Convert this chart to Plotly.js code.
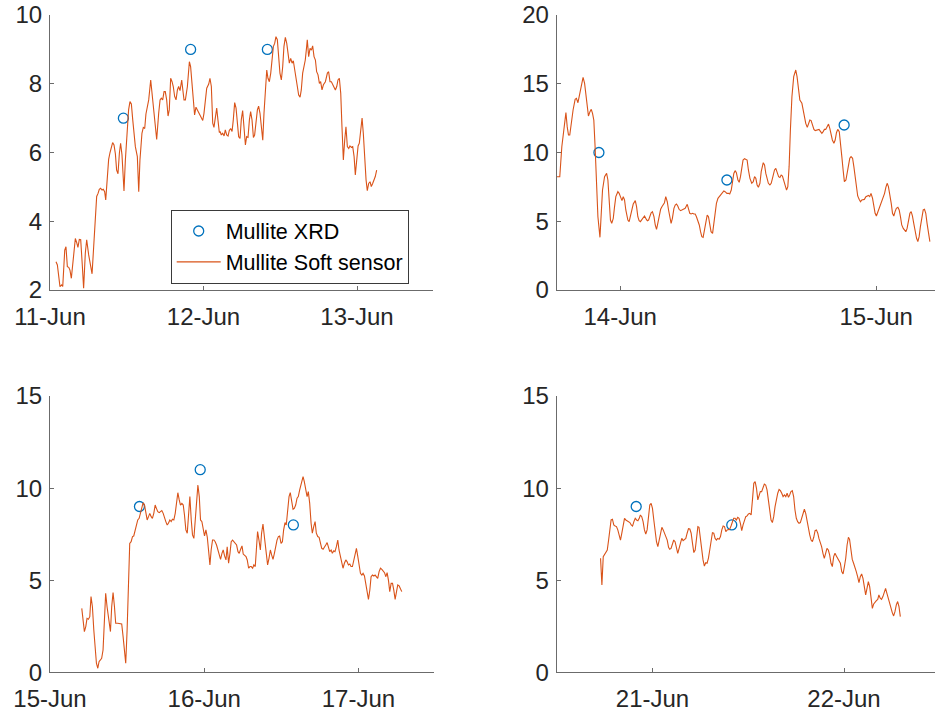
<!DOCTYPE html>
<html>
<head>
<meta charset="utf-8">
<script src="https://cdn.plot.ly/plotly-3.0.1.min.js"></script>
<style>
  html, body { margin: 0; padding: 0; background: #fff; }
  #chart { width: 936px; height: 713px; }
</style>
</head>
<body>
<div id="chart"></div>
<script>
// Times are given as day-of-month in June (fractional days), values in wt%.

// ---- Panel 1: 11-13 June ----
const p1Day = [11.039,11.048,11.065,11.076,11.083,11.096,11.104,11.113,11.122,11.130,11.139,11.152,11.165,11.174,11.182,11.191,11.200,11.211,11.219,11.230,11.239,11.252,11.265,11.274,11.282,11.291,11.304,11.313,11.321,11.330,11.339,11.347,11.356,11.363,11.374,11.382,11.391,11.400,11.408,11.417,11.426,11.434,11.443,11.452,11.460,11.469,11.482,11.491,11.504,11.512,11.521,11.530,11.539,11.547,11.556,11.569,11.578,11.586,11.599,11.608,11.617,11.625,11.634,11.643,11.656,11.665,11.673,11.682,11.695,11.708,11.717,11.725,11.734,11.743,11.751,11.760,11.769,11.777,11.786,11.795,11.803,11.812,11.821,11.830,11.838,11.847,11.858,11.864,11.873,11.882,11.895,11.908,11.916,11.925,11.934,11.942,11.951,11.960,11.969,11.977,11.986,11.995,12.003,12.012,12.021,12.034,12.042,12.051,12.060,12.068,12.077,12.086,12.094,12.103,
  12.108,12.116,12.125,12.134,12.142,12.151,12.160,12.168,12.177,12.186,12.194,12.203,12.212,12.220,12.229,12.238,12.246,12.255,12.264,12.273,12.281,12.290,12.299,12.307,12.316,12.325,12.333,12.342,12.351,12.359,12.368,12.377,12.386,12.394,12.403,12.412,12.420,12.429,12.438,12.446,12.455,12.464,12.472,12.481,12.490,12.498,12.507,12.516,12.524,12.533,12.542,12.551,12.559,12.568,12.577,12.585,12.594,12.603,12.611,12.620,12.629,12.637,12.646,12.655,12.663,12.672,12.676,12.685,12.694,12.703,12.711,12.720,12.729,12.737,12.746,12.755,12.763,12.772,12.781,12.794,12.807,12.815,12.824,12.833,12.841,12.850,12.859,12.868,12.876,12.885,12.894,12.902,12.911,12.920,12.928,12.937,12.946,12.954,12.963,12.972,12.981,12.989,12.998,13.007,13.015,13.024,13.033,13.041,13.050,13.059,13.067,13.076,13.085,13.093,13.102,13.111,13.119,13.128];
const p1Val = [2.82,2.73,2.10,2.15,2.10,3.16,3.26,2.68,2.66,2.58,2.34,2.97,3.50,3.38,3.24,3.47,3.46,2.68,2.05,3.07,3.46,3.02,2.66,2.47,3.07,3.84,4.72,4.81,4.93,4.96,4.91,4.93,4.86,4.62,5.49,5.80,6.00,6.17,6.29,6.22,5.96,5.49,5.38,5.98,6.27,5.93,4.88,5.78,6.75,7.24,7.48,7.41,6.95,6.56,6.17,5.88,4.86,5.78,6.56,6.73,6.70,7.12,7.32,7.53,8.11,7.72,7.53,6.95,6.38,7.14,7.53,7.58,7.53,7.77,7.77,7.53,7.06,7.24,8.16,8.06,7.92,7.63,7.53,7.82,7.92,7.80,8.11,7.87,7.53,7.53,7.92,8.64,8.50,8.01,7.53,7.09,7.32,7.24,7.16,7.09,7.00,6.93,7.14,7.58,7.87,7.99,8.16,7.92,6.85,6.73,6.95,7.29,6.95,6.58,
  6.61,6.51,6.56,6.48,6.66,6.51,6.48,6.64,6.70,6.61,6.95,7.45,7.29,6.75,6.46,6.41,6.95,7.22,6.75,6.22,6.46,6.44,6.95,7.19,6.95,6.44,6.51,6.95,7.24,7.35,7.14,6.75,6.36,7.14,7.92,8.40,8.16,8.06,8.31,8.79,9.08,9.18,9.37,9.28,8.79,8.31,8.11,8.50,9.08,9.35,9.18,8.94,8.60,8.74,8.60,8.67,8.40,8.16,7.92,7.67,7.61,7.82,8.31,8.50,8.69,9.08,9.28,8.79,9.03,8.98,9.10,8.79,8.69,8.35,8.26,8.01,8.06,7.82,7.97,8.06,8.31,8.35,8.06,8.06,7.97,7.92,7.82,7.92,8.11,8.16,7.72,6.75,5.78,6.37,6.75,6.17,6.12,6.19,6.15,6.17,5.88,5.35,5.78,6.19,6.27,6.66,7.00,6.56,5.78,5.20,4.89,5.10,5.15,5.01,5.10,5.22,5.30,5.49];
const p1XrdDay = [11.478, 11.916, 12.416];
const p1XrdVal = [7, 9, 9];

// ---- Panel 2: 14-15 June ----
const p2Day = [13.753,13.764,13.772,13.780,13.788,13.793,13.798,13.803,13.809,13.816,13.824,13.829,13.835,13.840,13.848,13.855,13.861,13.866,13.871,13.876,13.882,13.887,13.892,13.897,13.902,13.908,13.913,13.921,13.926,13.931,13.939,13.947,13.952,13.957,13.962,13.967,13.973,13.978,13.983,13.991,13.996,14.001,14.007,14.012,14.017,14.022,14.030,14.035,14.040,14.046,14.051,14.059,14.064,14.069,14.074,14.079,14.085,14.090,14.095,14.100,14.106,14.111,14.116,14.121,14.126,14.132,14.137,14.142,14.147,14.152,14.158,14.163,14.168,14.173,14.178,14.184,14.189,14.194,14.199,14.204,14.210,14.215,14.220,14.225,14.230,14.236,14.241,14.246,14.254,14.262,14.267,14.272,14.277,14.283,14.288,14.293,14.298,14.303,14.309,14.314,14.319,14.324,14.329,14.335,14.340,14.345,14.350,14.355,14.361,14.366,14.371,14.376,14.382,14.389,14.397,14.405,14.410,14.417,14.423,14.428,14.434,14.439,14.444,14.449,14.454,14.460,14.465,14.470,14.475,14.480,14.486,
  14.496,14.501,14.507,14.514,14.520,14.525,14.530,14.535,14.540,14.546,14.551,14.559,14.564,14.569,14.574,14.579,14.585,14.590,14.595,14.603,14.608,14.613,14.619,14.624,14.629,14.634,14.639,14.645,14.650,14.655,14.660,14.665,14.671,14.678,14.686,14.691,14.697,14.702,14.710,14.715,14.720,14.725,14.731,14.736,14.741,14.746,14.751,14.757,14.762,14.767,14.772,14.777,14.783,14.788,14.793,14.798,14.803,14.809,14.814,14.819,14.824,14.829,14.835,14.840,14.845,14.850,14.856,14.861,14.866,14.871,14.876,14.882,14.887,14.892,14.897,14.902,14.908,14.913,14.918,14.923,14.928,14.934,14.939,14.944,14.949,14.954,14.960,14.965,14.970,14.975,14.980,14.986,14.991,14.996,15.001,15.007,15.012,15.017,15.022,15.027,15.033,15.038,15.043,15.048,15.053,15.059,15.064,15.069,15.074,15.079,15.085,15.090,15.095,15.100,15.106,15.111,15.116,15.121,15.126,15.132,15.137,15.142,15.147,15.152,15.158,15.163,15.168,15.173,15.178,15.184,15.189,15.194,15.199,15.204,15.210];
const p2Val = [8.24,8.24,10.42,11.88,12.90,11.88,11.27,11.27,12.24,13.09,13.87,13.94,13.62,14.06,14.79,15.47,15.03,14.06,13.21,12.65,12.97,13.14,12.85,12.36,10.42,7.76,5.33,3.83,5.33,7.27,8.24,8.48,8.00,6.30,5.09,4.85,5.21,6.06,6.79,7.15,7.03,6.79,6.50,6.79,6.55,5.82,5.09,4.97,5.33,5.82,6.25,6.50,6.06,5.33,5.04,4.97,5.14,5.33,5.38,5.21,5.04,5.09,5.33,5.62,5.70,5.33,4.73,4.41,4.85,5.33,5.87,6.06,6.18,6.35,6.79,6.42,5.82,5.33,4.85,5.21,5.94,6.18,6.25,6.11,5.87,5.77,5.82,5.82,5.94,6.23,5.82,5.58,5.53,5.58,5.53,5.53,5.33,5.09,4.73,4.24,3.88,3.83,4.36,5.09,5.45,5.33,4.85,4.24,4.12,4.85,5.82,6.30,6.67,6.86,7.03,7.20,7.15,7.03,7.03,6.98,7.27,7.88,8.48,8.68,8.53,8.00,7.83,8.24,8.97,9.45,9.55,
  9.45,8.73,8.12,7.76,7.88,8.24,8.12,7.64,7.47,7.76,8.61,9.26,9.09,8.48,8.00,7.76,7.64,7.76,8.12,8.73,8.85,8.61,8.24,8.19,8.36,8.29,8.00,7.52,7.27,7.52,8.97,11.64,14.06,15.52,16.00,15.52,14.30,13.82,13.58,13.09,12.61,12.12,11.83,12.07,12.36,12.32,12.00,11.68,11.59,11.64,11.64,11.68,11.52,11.39,11.52,11.68,11.68,11.88,12.07,11.76,11.27,10.91,10.67,10.91,11.44,11.68,11.52,10.79,9.70,8.73,7.88,8.00,8.48,9.09,9.58,9.70,9.58,8.97,8.12,7.27,6.84,6.59,6.42,6.55,6.55,6.59,6.79,6.86,6.88,6.79,7.03,6.67,6.06,5.58,5.38,5.70,6.06,6.30,6.50,6.74,7.03,7.47,7.76,7.52,7.03,6.30,5.58,5.38,5.70,5.94,6.01,5.82,5.33,4.73,4.48,4.36,4.24,4.48,5.09,5.58,5.70,5.38,4.85,4.24,3.76,3.52,3.88,4.61,5.33,5.82,5.87,5.58,4.85,4.12,3.52];
const p2XrdDay = [13.917, 14.417, 14.875];
const p2XrdVal = [10, 8, 12];

// ---- Panel 3: 15-17 June ----
const p3Day = [15.206,15.214,15.223,15.232,15.240,15.249,15.258,15.266,15.275,15.284,15.292,15.301,15.310,15.318,15.327,15.335,15.344,15.353,15.361,15.370,15.379,15.392,15.400,15.409,15.418,15.426,15.439,15.452,15.465,15.474,15.483,15.491,15.500,15.509,15.517,15.526,15.535,15.543,15.552,15.561,15.569,15.578,15.587,15.595,15.604,15.613,15.621,15.630,15.639,15.647,15.656,15.664,15.673,15.682,15.690,15.699,15.708,15.716,15.725,15.734,15.742,15.751,15.760,15.768,15.777,15.786,15.794,15.803,15.812,15.820,15.829,15.838,15.846,15.855,15.864,15.872,15.881,15.890,15.898,15.907,15.916,15.924,15.933,15.942,15.950,15.959,15.968,15.976,15.985,15.994,16.002,16.011,16.020,16.028,16.037,16.045,16.054,16.063,16.071,16.080,16.089,16.097,16.106,16.115,16.123,16.132,16.141,16.149,16.158,16.167,16.175,16.184,16.193,16.201,16.210,16.219,16.227,16.236,16.245,16.253,16.262,16.271,16.279,16.288,16.297,16.305,16.314,16.322,16.331,
  16.338,16.346,16.355,16.364,16.372,16.381,16.390,16.398,16.411,16.420,16.429,16.437,16.446,16.455,16.463,16.472,16.481,16.489,16.498,16.507,16.515,16.524,16.532,16.541,16.550,16.558,16.567,16.576,16.584,16.593,16.602,16.610,16.619,16.628,16.641,16.649,16.658,16.667,16.675,16.684,16.693,16.701,16.710,16.719,16.727,16.736,16.745,16.753,16.762,16.771,16.779,16.788,16.797,16.805,16.814,16.823,16.831,16.840,16.848,16.857,16.866,16.874,16.883,16.892,16.900,16.909,16.918,16.926,16.935,16.944,16.952,16.961,16.970,16.978,16.987,16.996,17.004,17.013,17.022,17.030,17.039,17.048,17.056,17.065,17.074,17.082,17.091,17.100,17.108,17.117,17.125,17.134,17.143,17.152,17.160,17.169,17.178,17.186,17.195,17.203,17.212,17.221,17.229,17.238,17.247,17.255,17.264,17.273,17.281];
const p3Val = [3.47,2.66,2.21,2.48,2.93,2.88,3.02,4.11,3.56,2.30,1.21,0.49,0.22,0.58,0.67,0.76,1.21,3.02,4.29,3.56,3.02,2.21,3.56,4.33,3.56,2.66,2.66,2.66,2.62,1.94,1.03,0.49,2.30,4.83,7.00,7.09,7.37,7.40,7.73,8.00,8.27,8.36,8.63,8.90,9.21,9.08,8.72,8.27,8.45,8.63,8.45,8.36,8.63,9.08,8.90,8.72,8.67,8.72,8.78,8.63,8.36,8.18,8.00,8.09,8.27,8.18,8.31,8.27,8.63,9.27,9.75,9.36,9.08,9.17,9.08,8.54,7.73,7.55,8.63,9.54,8.27,7.46,7.27,8.27,9.36,10.17,9.54,8.27,8.18,7.64,7.40,7.73,7.33,6.64,5.83,6.64,7.18,7.18,7.09,6.91,6.64,6.28,6.13,6.46,6.64,6.32,6.10,6.82,5.92,6.46,7.09,7.18,7.09,7.04,6.91,6.55,6.46,6.68,6.86,6.42,6.37,6.28,6.10,5.65,5.74,5.74,5.65,5.83,5.74,
  6.64,7.64,7.18,6.64,7.55,8.05,7.37,6.64,5.83,6.19,6.64,6.37,6.13,6.46,6.91,7.18,7.37,7.40,7.00,7.09,7.73,8.13,8.00,8.81,9.54,9.75,9.17,8.85,8.90,9.08,9.45,9.54,9.90,10.26,10.62,10.35,9.81,9.54,9.81,9.17,8.09,7.55,7.91,8.18,7.55,7.37,7.33,7.09,6.73,6.68,6.82,6.91,7.04,6.73,6.55,6.64,6.46,6.60,6.55,6.82,7.18,6.64,6.28,5.92,5.65,5.92,6.10,6.01,5.83,5.88,5.74,5.74,6.10,6.46,6.73,6.28,5.92,5.37,5.28,5.37,5.23,4.83,4.29,3.96,4.47,5.19,5.28,5.23,5.28,5.19,5.10,5.47,5.65,5.59,5.52,5.41,5.19,5.41,4.98,4.38,4.83,4.83,4.47,3.96,4.38,4.74,4.69,4.51,4.38];
const p3XrdDay = [15.580, 15.974, 16.578];
const p3XrdVal = [9, 11, 8];

// ---- Panel 4: 21-22 June ----
const p4Day = [20.729,20.736,20.743,20.750,20.757,20.764,20.771,20.778,20.784,20.791,20.798,20.805,20.812,20.819,20.826,20.833,20.840,20.847,20.854,20.861,20.868,20.875,20.882,20.889,20.896,20.903,20.910,20.917,20.924,20.931,20.937,20.944,20.951,20.958,20.965,20.972,20.979,20.986,20.993,21.000,21.007,21.014,21.021,21.028,21.035,21.042,21.049,21.056,21.063,21.070,21.077,21.084,21.090,21.097,21.104,21.111,21.118,21.125,21.132,21.139,21.146,21.153,21.160,21.167,21.174,21.181,21.188,21.195,21.202,21.209,21.216,21.223,21.230,21.237,21.243,21.250,21.257,21.264,21.271,21.278,21.285,21.292,21.299,21.306,21.313,21.320,21.327,21.334,21.340,21.348,21.355,21.362,21.369,21.376,21.383,21.390,21.397,21.403,21.410,21.417,21.424,21.431,21.438,21.445,21.452,21.459,21.466,21.473,21.480,21.487,21.494,21.501,21.508,21.515,21.522,21.529,21.536,21.543,21.550,21.556,21.563,21.570,21.577,21.584,21.591,21.598,21.605,21.612,21.619,21.626,21.633,21.640,21.647,21.654,21.661,21.668,21.675,21.682,21.689,21.696,21.703,21.710,21.716,21.723,21.730,21.737,21.744,21.751,21.758,21.765,21.772,21.779,21.786,21.793,21.800,21.807,21.814,21.821,21.828,21.835,21.842,21.849,21.856,21.863,21.869,21.876,21.883,21.890,21.897,21.904,21.911,21.918,21.925,21.932,21.939,21.946,21.953,21.960,21.967,21.974,21.981,21.988,21.995,22.002,22.009,22.016,22.023,22.029,22.036,22.043,22.050,22.057,22.064,22.071,22.078,22.085,22.092,22.099,22.106,22.113,22.120,22.127,22.134,22.141,22.148,22.155,22.162,22.169,22.176,22.182,22.189,22.196,22.203,22.210,22.217,22.224,22.231,22.238,22.245,22.252,22.259,22.266,22.273,22.280,22.287,22.294];
const p4Val = [6.19,4.74,6.28,6.42,6.50,6.64,7.18,7.91,8.27,8.31,8.00,7.94,7.91,7.73,7.37,7.18,7.55,8.09,8.36,8.27,8.23,8.18,8.13,8.00,7.94,8.18,8.36,8.27,8.23,8.36,8.54,8.45,8.18,7.73,7.51,7.73,8.45,9.08,9.17,8.90,8.27,7.55,7.09,6.82,7.18,7.64,7.87,7.73,7.55,7.33,7.18,6.79,6.68,6.73,7.00,7.18,7.09,6.82,6.46,6.73,7.00,7.27,7.15,7.22,7.27,7.55,7.80,7.78,7.55,7.00,6.50,6.64,7.37,7.91,7.87,7.18,6.64,6.10,5.77,5.95,5.92,6.19,6.64,7.18,7.58,7.55,7.27,7.18,7.27,7.22,7.37,7.73,7.94,7.91,7.64,7.73,7.73,7.76,7.94,8.18,8.36,8.36,8.27,8.41,8.36,8.09,7.69,8.00,8.27,8.45,8.49,8.60,8.63,8.54,9.36,10.26,10.35,9.99,9.36,9.54,9.81,9.81,10.08,10.22,10.17,9.90,9.36,8.72,8.27,8.13,8.45,8.99,9.45,9.72,9.93,9.86,9.72,9.54,9.63,9.54,9.72,9.50,9.63,9.81,9.86,9.54,8.81,8.36,8.18,8.09,8.13,8.36,8.63,8.85,8.63,8.18,7.73,7.46,7.18,7.09,7.33,7.69,7.73,7.55,7.27,7.09,6.82,6.46,6.19,6.46,6.73,6.64,6.37,5.92,5.74,6.28,6.46,6.32,6.19,6.10,5.92,5.47,5.34,5.74,6.19,6.91,7.33,7.22,6.64,6.13,5.92,5.74,5.47,5.19,4.87,5.19,5.34,5.10,4.56,4.20,4.56,4.92,4.65,3.93,3.47,3.71,3.84,3.89,3.96,4.20,4.02,3.96,4.11,4.38,4.56,4.29,4.02,3.66,3.42,3.24,3.06,3.29,3.66,3.84,3.56,3.02];
const p4XrdDay = [20.915, 21.414];
const p4XrdVal = [9, 8];

// Axis extents (June day numbers) and y tick sets
const xRanges = [[11.0, 13.495], [13.752, 15.23], [15.0, 17.49], [20.5, 22.475]];
const xTickDays = [[11, 12, 13], [14, 15], [15, 16, 17], [21, 22]];
const yRanges = [[2, 10], [0, 20], [0, 15], [0, 15]];
const yTicks = [[2, 4, 6, 8, 10], [0, 5, 10, 15, 20], [0, 5, 10, 15], [0, 5, 10, 15]];

const xrdName = 'Mullite XRD';
const sensorName = 'Mullite Soft sensor';

// June day number -> date string understood by Plotly
const JUNE1 = Date.UTC(2018, 5, 1);
function toDate(day) {
  return new Date(JUNE1 + (day - 1) * 86400000).toISOString().replace('T', ' ').slice(0, 19);
}

const lineColor = '#D95319';
const xrdColor = '#0072BD';
const axisColor = '#6b6b6b';
const textColor = '#262626';

const panels = [
  [p1Day, p1Val, p1XrdDay, p1XrdVal],
  [p2Day, p2Val, p2XrdDay, p2XrdVal],
  [p3Day, p3Val, p3XrdDay, p3XrdVal],
  [p4Day, p4Val, p4XrdDay, p4XrdVal]
];

const traces = [];
panels.forEach(function (p, i) {
  const xa = i === 0 ? 'x' : 'x' + (i + 1);
  const ya = i === 0 ? 'y' : 'y' + (i + 1);
  traces.push({
    type: 'scatter', mode: 'markers', name: xrdName,
    x: p[2].map(toDate), y: p[3], xaxis: xa, yaxis: ya,
    showlegend: i === 0, hoverinfo: 'skip',
    marker: { symbol: 'circle-open', size: 10, color: xrdColor, line: { width: 1.3, color: xrdColor } }
  });
  traces.push({
    type: 'scatter', mode: 'lines', name: sensorName,
    x: p[0].map(toDate), y: p[1], xaxis: xa, yaxis: ya,
    showlegend: i === 0, hoverinfo: 'skip',
    line: { color: lineColor, width: 1.1 }
  });
});

// Plot areas in pixels: [left, right, top, bottom]
const W = 936, H = 713;
const boxes = [[50, 433, 15, 290], [556.7, 935, 15, 290], [50, 434, 396, 672.3], [556.7, 935, 396, 672.3]];

const layout = {
  width: W, height: H,
  margin: { l: 0, r: 0, t: 0, b: 0 },
  paper_bgcolor: '#ffffff', plot_bgcolor: '#ffffff',
  font: { family: 'Liberation Sans, Arial, sans-serif', size: 24, color: textColor },
  showlegend: true,
  legend: {
    x: 170.7 / W, y: 1 - 209.5 / H, xanchor: 'left', yanchor: 'top',
    bgcolor: '#ffffff', bordercolor: '#3a3a3a', borderwidth: 1,
    font: { size: 21.5, color: '#000000' },
    itemwidth: 44, tracegroupgap: 0
  }
};

boxes.forEach(function (b, i) {
  const sfx = i === 0 ? '' : String(i + 1);
  layout['xaxis' + sfx] = {
    type: 'date',
    domain: [b[0] / W, b[1] / W],
    anchor: 'y' + sfx,
    range: xRanges[i].map(toDate),
    tickvals: xTickDays[i].map(toDate),
    tickformat: '%d-%b',
    ticks: 'inside', ticklen: 4, tickwidth: 1, tickcolor: axisColor,
    showline: true, linecolor: axisColor, linewidth: 1,
    showgrid: false, zeroline: false,
    tickfont: { size: 24, color: textColor },
    ticklabelstandoff: 5
  };
  layout['yaxis' + sfx] = {
    domain: [1 - b[3] / H, 1 - b[2] / H],
    anchor: 'x' + sfx,
    range: yRanges[i],
    tickvals: yTicks[i],
    ticks: 'inside', ticklen: 4, tickwidth: 1, tickcolor: axisColor,
    showline: true, linecolor: axisColor, linewidth: 1,
    showgrid: false, zeroline: false,
    tickfont: { size: 24, color: textColor },
    ticklabelstandoff: 2
  };
});

Plotly.newPlot('chart', traces, layout, { staticPlot: true, displayModeBar: false });
</script>
</body>
</html>
